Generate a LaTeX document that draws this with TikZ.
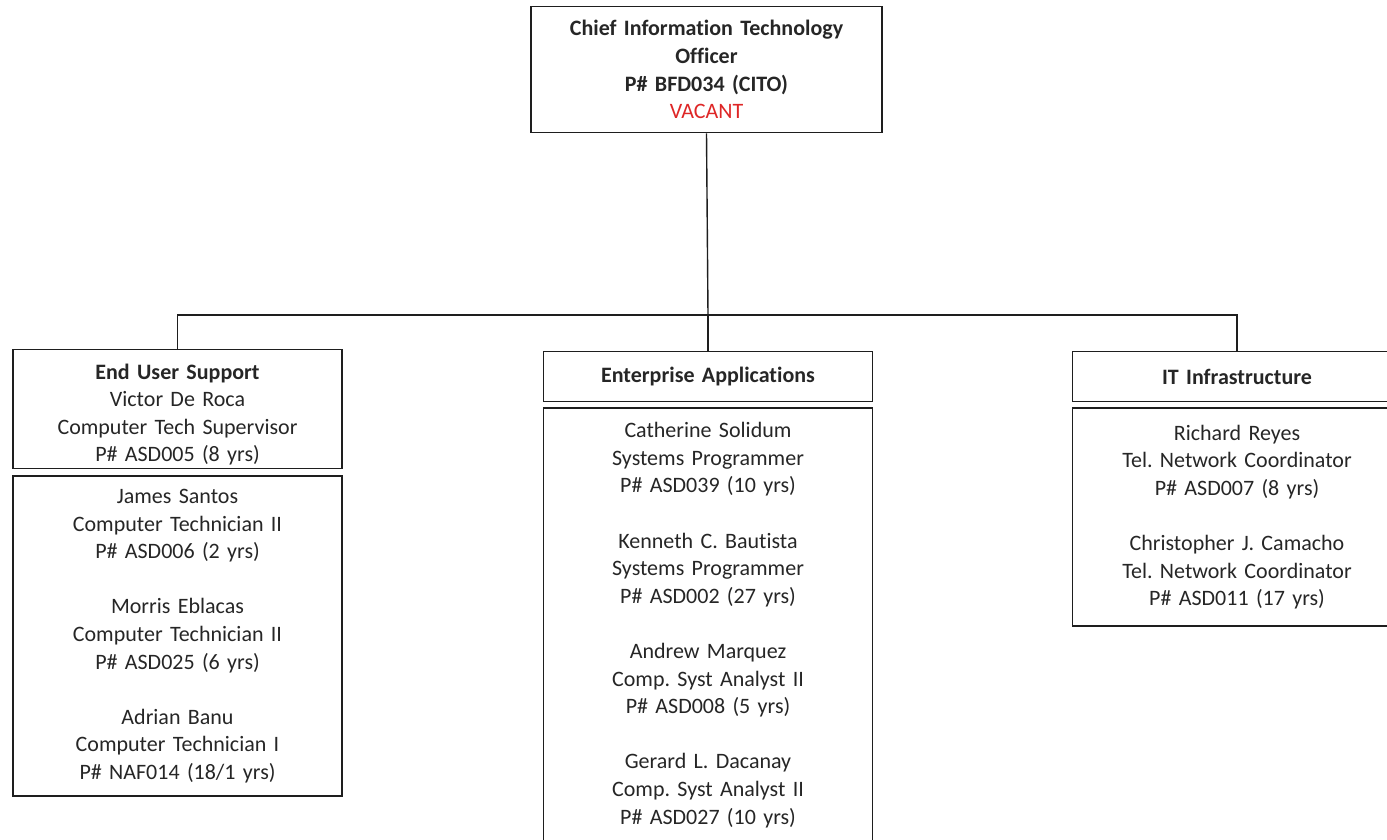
\documentclass[tikz,border=0pt]{standalone}
\usepackage{fontspec}
\setmainfont{Carlito}[Ligatures=NoCommon]
\usetikzlibrary{positioning}
\definecolor{vacantred}{RGB}{222,38,38}
\definecolor{boxline}{RGB}{30,30,30}
\newcommand\chartfont{\fontsize{22}{27.6}\selectfont}
\frenchspacing
\begin{document}
\begin{tikzpicture}[
  x=1pt,
  y=-1pt,
  font=\chartfont,
  box/.style={draw=boxline, line width=1.4pt, align=center, inner sep=0pt,
    minimum width=329pt, text width=320pt, text=black!85},
  head/.style={box, font=\chartfont\bfseries},
  link/.style={draw=boxline, line width=1.4pt}
]
\useasboundingbox (0,0) rectangle (1387,840);

% top: CITO
\node[head, anchor=north, minimum height=126pt, minimum width=351pt] (cito) at (706.5,6)
  {Chief Information Technology\\Officer\\P\# BFD034 (CITO)\\\mdseries\color{vacantred}VACANT};

% group 1: End User Support
\node[box, anchor=north, minimum height=119pt] (eus) at (177.5,349)
  {\rule{0pt}{26pt}\textbf{End User Support}\\Victor De Roca\\Computer Tech Supervisor\\P\# ASD005 (8 yrs)};
\node[box, anchor=north, minimum height=320pt, below=6pt of eus] (eusstaff)
  {James Santos\\Computer Technician II\\P\# ASD006 (2 yrs)\\[27.6pt]
   Morris Eblacas\\Computer Technician II\\P\# ASD025 (6 yrs)\\[27.6pt]
   Adrian Banu\\Computer Technician I\\P\# NAF014 (18/1 yrs)};

% group 2: Enterprise Applications
\node[head, anchor=north, minimum height=50pt] (ea) at (708,351) {Enterprise Applications};
\node[box, anchor=north, minimum height=434pt, below=5pt of ea] (eastaff)
  {Catherine Solidum\\Systems Programmer\\P\# ASD039 (10 yrs)\\[27.6pt]
   Kenneth C. Bautista\\Systems Programmer\\P\# ASD002 (27 yrs)\\[27.6pt]
   Andrew Marquez\\Comp. Syst Analyst II\\P\# ASD008 (5 yrs)\\[27.6pt]
   Gerard L. Dacanay\\Comp. Syst Analyst II\\P\# ASD027 (10 yrs)};

% group 3: IT Infrastructure
\node[head, anchor=north, minimum height=50pt] (iti) at (1237,351) {IT Infrastructure};
\node[box, anchor=north, minimum height=218pt, below=5pt of iti] (itistaff)
  {Richard Reyes\\Tel. Network Coordinator\\P\# ASD007 (8 yrs)\\[27.6pt]
   Christopher J. Camacho\\Tel. Network Coordinator\\P\# ASD011 (17 yrs)};

% connectors
\coordinate (bus) at (708,315);
\draw[link] (cito.south) -- (bus);
\draw[link] (bus) -- (ea.north);
\draw[link] (eus.north) |- (bus) -| (iti.north);
\end{tikzpicture}
\end{document}
